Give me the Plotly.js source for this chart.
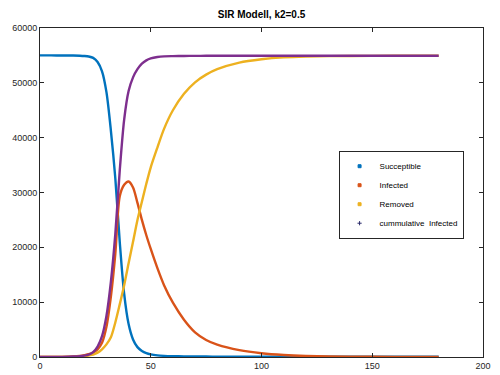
<!DOCTYPE html>
<html>
<head>
<meta charset="utf-8">
<script src="https://cdn.plot.ly/plotly-3.0.1.min.js"></script>
<style>html,body{margin:0;padding:0;background:#fff;}#chart{width:500px;height:375px;}</style>
</head>
<body>
<div id="chart"></div>
<script>
// time samples (days)
const t = [0,5,10,15,18,20,22,24,26,28,30,32,34,36,38,40,42,44,46,48,50,53,56,60,65,70,75,80,90,100,110,120,140,160,180];
const susceptible = [55000,55000,54995,54980,54950,54900,54800,54550,53800,52100,48300,41300,32600,21000,11500,6000,3200,1800,1100,700,480,300,210,150,110,90,80,70,60,55,50,50,50,50,50];
const infected = [5,8,20,90,200,330,500,800,1400,2600,5500,11000,18800,29300,31400,32000,30900,28100,25000,22200,19700,16200,13100,9900,6800,4500,3100,2250,1250,680,360,190,60,20,10];
const removed = [0,1,5,30,80,150,280,450,800,1400,2300,3600,6300,9600,13100,17100,21000,25000,28300,31600,34600,38200,41600,45000,48000,50100,51500,52500,53700,54300,54650,54800,54900,54930,54940];
const cumulative = [5,10,30,80,150,250,450,900,1900,3800,7500,13700,22400,34000,43300,48500,51000,52500,53500,54100,54450,54700,54820,54870,54900,54920,54930,54940,54950,54950,54950,54950,54950,54950,54950];
const names = ['Succeptible','Infected','Removed','cummulative  Infected'];
const colors = ['#0072BD','#D95319','#EDB120','#7E2F8E'];
const series = [susceptible, infected, removed, cumulative];
const legendSymbols = ['square','square','square','cross-thin'];
const legendColors = ['#0072BD','#D95319','#EDB120','#2a2a6a'];

const traces = [];
series.forEach((ys, i) => {
  traces.push({x: t, y: ys, type: 'scatter', mode: 'lines', line: {color: colors[i], width: 2.4, shape: 'spline', smoothing: 0.8}, showlegend: false, hoverinfo: 'skip'});
});
series.forEach((ys, i) => {
  traces.push({x: [null], y: [null], type: 'scatter', mode: 'markers', name: names[i], marker: {color: legendColors[i], size: 3, symbol: legendSymbols[i], line: {color: legendColors[i], width: 1}}});
});

const axisCommon = {showgrid: false, zeroline: false, showline: true, linecolor: '#262626', linewidth: 1, mirror: 'ticks', ticks: 'inside', ticklen: 4, tickcolor: '#262626', tickfont: {family: 'Liberation Sans, Arial, sans-serif', size: 9, color: '#262626'}};

const layout = {
  width: 500, height: 375,
  margin: {l: 40, r: 17, t: 28, b: 18},
  paper_bgcolor: '#fff', plot_bgcolor: '#fff',
  title: {text: '<b>SIR Modell, k2=0.5</b>', x: 0.523, xanchor: 'center', y: 0.962, yanchor: 'middle', font: {family: 'Liberation Sans, Arial, sans-serif', size: 10, color: '#000'}},
  xaxis: Object.assign({}, axisCommon, {range: [0, 200], dtick: 50, tick0: 0}),
  yaxis: Object.assign({}, axisCommon, {range: [0, 60000], dtick: 10000, tick0: 0, tickformat: 'd'}),
  showlegend: true,
  legend: {x: 0.674, y: 0.627, xanchor: 'left', yanchor: 'top', bgcolor: '#fff', bordercolor: '#262626', borderwidth: 1, font: {family: 'Liberation Sans, Arial, sans-serif', size: 8, color: '#000'}, tracegroupgap: 0, entrywidth: 96, entrywidthmode: 'pixels'}
};

Plotly.newPlot('chart', traces, layout, {displayModeBar: false, staticPlot: true});
</script>
</body>
</html>
